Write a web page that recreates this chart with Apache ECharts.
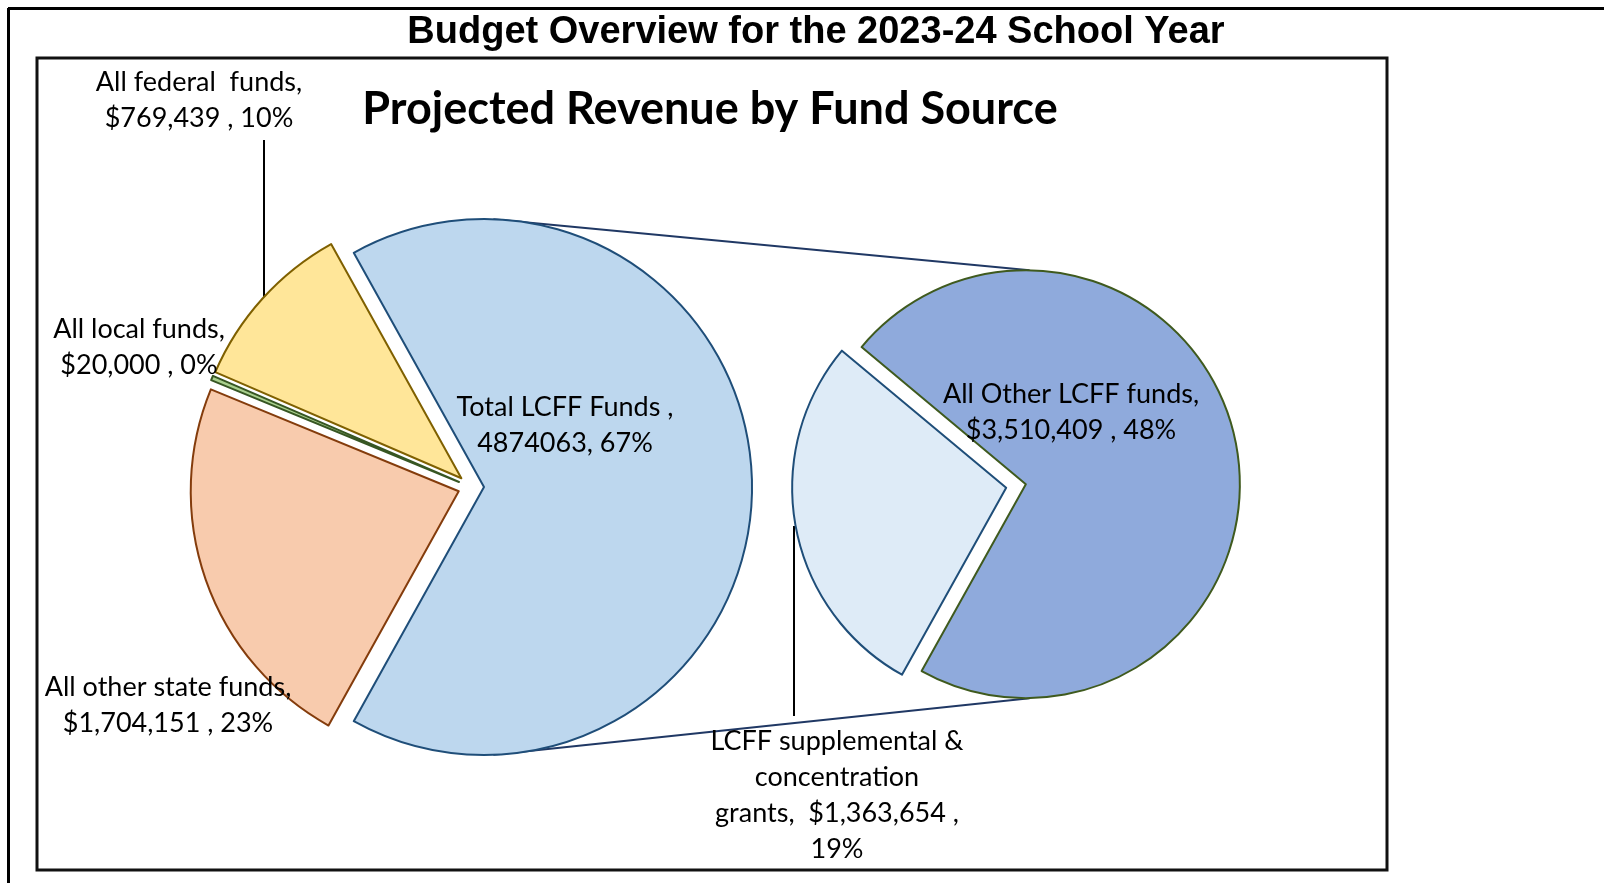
<!DOCTYPE html>
<html>
<head>
<meta charset="utf-8">
<script src="https://cdn.jsdelivr.net/npm/echarts@6/dist/echarts.min.js"></script>
<style>
html,body{margin:0;padding:0;background:#ffffff;}
#chart{width:1604px;height:883px;}
</style>
</head>
<body>
<div id="chart"></div>
<script>
// ---- data ----
const mainNames = ['Total LCFF Funds', 'All other state funds', 'All local funds', 'All federal  funds'];
const mainValues = [4874063, 1704151, 20000, 769439];
const mainPercents = [67, 23, 0, 10];

const subNames = ['All Other LCFF funds', 'LCFF supplemental &\nconcentration\ngrants'];
const subValues = [3510409, 1363654];
const subPercents = [48, 19];

const chartTitle = 'Budget Overview for the 2023-24 School Year';
const chartSubtitle = 'Projected Revenue by Fund Source';

// ---- styles ----
const mainFill = ['#BDD7EE', '#F8CBAD', '#A9D08E', '#FFE699'];
const mainStroke = ['#1F4E79', '#843C0C', '#375623', '#7F6000'];
const subFill = ['#8FAADC', '#DEEBF7'];
const subStroke = ['#3F5A1E', '#1F4E79'];

const labelFont = 'Lato, "Open Sans", sans-serif';
const labelSize = 27;
const labelLH = 36;

// ---- layout ----
const mainCenter = [471, 487], mainR = 268, mainOffset = 13;
const subCenter = [1016, 486], subR = 214, subOffset = 10;
const subBisector = 190.5; // direction of the supplemental slice (deg)

const mainLabelPos = [[565, 425], [168, 705], [139, 347], [199, 100]];
const subLabelPos = [[1071, 412], [837, 795]];

const fmt = v => v.toLocaleString('en-US');
const sum = a => a.reduce((s, v) => s + v, 0);

const mainStart = 360 * mainValues[0] / sum(mainValues) / 2;
const subStart = subBisector - 180 * subValues[1] / sum(subValues);

function mainLabel(i) {
  if (i === 0) return mainNames[i] + ' ,\n' + mainValues[i] + ', ' + mainPercents[i] + '%';
  return mainNames[i] + ',\n$' + fmt(mainValues[i]) + ' , ' + mainPercents[i] + '%';
}
function subLabel(i) {
  if (i === 0) return subNames[i] + ',\n$' + fmt(subValues[i]) + ' , ' + subPercents[i] + '%';
  return subNames[i] + ',  $' + fmt(subValues[i]) + ' ,\n' + subPercents[i] + '%';
}

const mainData = mainValues.map((v, i) => {
  const st = { color: mainFill[i], borderColor: mainStroke[i], borderWidth: 2 };
  return { name: mainNames[i], value: v, selected: true, itemStyle: st, select: { itemStyle: st } };
});
const subData = subValues.map((v, i) => {
  const st = { color: subFill[i], borderColor: subStroke[i], borderWidth: 2 };
  return { name: subNames[i], value: v, selected: true, itemStyle: st, select: { itemStyle: st } };
});

// connector lines (from slice geometry)
const rad = d => d * Math.PI / 180;
const lcffC = [mainCenter[0] + mainOffset, mainCenter[1]];
const otherBis = subBisector - 180;
const otherC = [subCenter[0] + subOffset * Math.cos(rad(otherBis)), subCenter[1] - subOffset * Math.sin(rad(otherBis))];
function pt(c, r, a) { return [c[0] + r * Math.cos(rad(a)), c[1] - r * Math.sin(rad(a))]; }
const t1 = pt(lcffC, mainR, 88), t2 = pt(otherC, subR, 89);
const b1 = pt(lcffC, mainR, -88), b2 = pt(otherC, subR, -89);

function labelText(text, pos) {
  return {
    type: 'text', x: pos[0], y: pos[1], z: 10,
    style: {
      text: text, fill: '#000', fontFamily: labelFont, fontSize: labelSize,
      lineHeight: labelLH, align: 'center', verticalAlign: 'middle'
    }
  };
}

const labels = mainValues.map((v, i) => labelText(mainLabel(i), mainLabelPos[i]))
  .concat(subValues.map((v, i) => labelText(subLabel(i), subLabelPos[i])));

const chart = echarts.init(document.getElementById('chart'), null, { renderer: 'canvas' });
chart.setOption({
  animation: false,
  backgroundColor: '#ffffff',
  title: [
    { text: chartTitle, left: 811, top: 9, textAlign: 'center',
      textStyle: { fontFamily: '"Liberation Sans", Arial, sans-serif', fontWeight: 'bold', fontSize: 38, color: '#000' } },
    { text: chartSubtitle, left: 705, top: 82, textAlign: 'center',
      textStyle: { fontFamily: labelFont, fontWeight: 'bold', fontSize: 45, color: '#000' } }
  ],
  graphic: [
    { type: 'line', shape: { x1: 8, y1: 8.5, x2: 1604, y2: 8.5 }, style: { stroke: '#000', lineWidth: 3 } },
    { type: 'line', shape: { x1: 8.5, y1: 8, x2: 8.5, y2: 883 }, style: { stroke: '#000', lineWidth: 3 } },
    { type: 'rect', shape: { x: 37, y: 58, width: 1350, height: 812 }, style: { fill: null, stroke: '#111', lineWidth: 3 } },
    { type: 'line', shape: { x1: t1[0], y1: t1[1], x2: t2[0], y2: t2[1] }, style: { stroke: '#203864', lineWidth: 2 }, z: 1 },
    { type: 'line', shape: { x1: b1[0], y1: b1[1], x2: b2[0], y2: b2[1] }, style: { stroke: '#203864', lineWidth: 2 }, z: 1 },
    { type: 'line', shape: { x1: 264, y1: 140, x2: 264, y2: 298 }, style: { stroke: '#000', lineWidth: 2 }, z: 1 },
    { type: 'line', shape: { x1: 794, y1: 526, x2: 794, y2: 716 }, style: { stroke: '#000', lineWidth: 2 }, z: 1 }
  ].concat(labels),
  series: [
    {
      type: 'pie', center: mainCenter, radius: mainR, startAngle: mainStart, clockwise: true,
      selectedMode: 'multiple', selectedOffset: mainOffset, avoidLabelOverlap: false,
      emphasis: { disabled: true }, z: 2,
      label: { show: false }, labelLine: { show: false },
      data: mainData
    },
    {
      type: 'pie', center: subCenter, radius: subR, startAngle: subStart, clockwise: true,
      selectedMode: 'multiple', selectedOffset: subOffset, avoidLabelOverlap: false,
      emphasis: { disabled: true }, z: 2,
      label: { show: false }, labelLine: { show: false },
      data: subData
    }
  ]
});
</script>
</body>
</html>
